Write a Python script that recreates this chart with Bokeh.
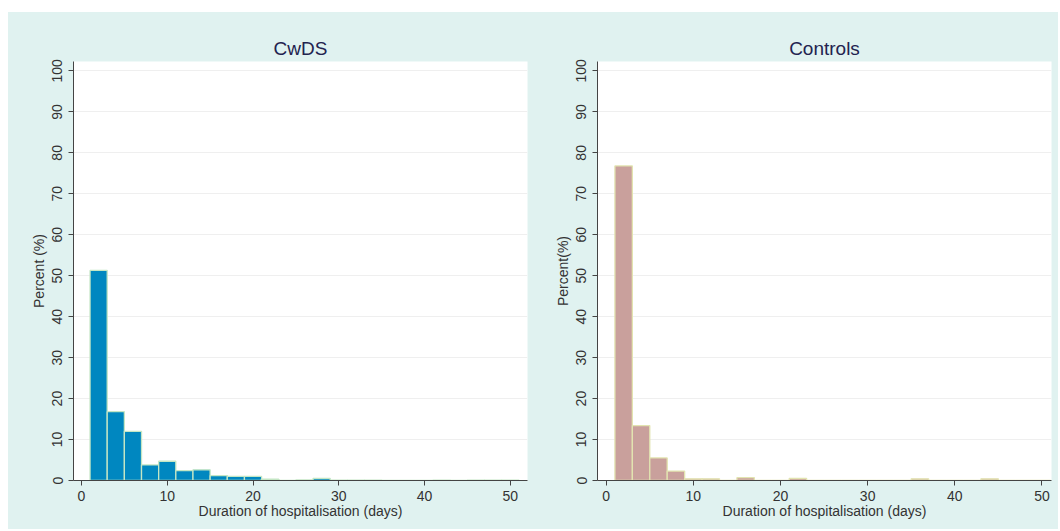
from bokeh.plotting import figure
from bokeh.layouts import row
from bokeh.models import FixedTicker
from bokeh.embed import file_html
from bokeh.resources import INLINE

bin_edges = [1, 3, 5, 7, 9, 11, 13, 15, 17, 19, 21, 23, 25, 27, 29, 31, 33, 35,
             37, 39, 41, 43, 45, 47, 49, 51]
cwds_pct = [51.3, 16.8, 12.0, 3.8, 4.7, 2.4, 2.6, 1.2, 1.0, 1.0, 0.3, 0.0, 0.15,
            0.5, 0.1, 0.1, 0.1, 0.0, 0.0, 0.0, 0.1, 0.0, 0.1, 0.1, 0.1]
controls_pct = [76.8, 13.4, 5.5, 2.3, 0.4, 0.4, 0.0, 0.7, 0.0, 0.0, 0.5, 0.0, 0.0,
                0.0, 0.0, 0.0, 0.0, 0.4, 0.0, 0.0, 0.0, 0.4, 0.0, 0.0, 0.0]
x_ticks = [0, 10, 20, 30, 40, 50]
y_ticks = [0, 10, 20, 30, 40, 50, 60, 70, 80, 90, 100]

BG = "#e0f2f0"
FONT = "Liberation Sans"


def make_panel(title, values, fill, line, ylabel, width, mb_left, mb_right, xr):
    p = figure(width=width, height=517, output_backend="svg", toolbar_location=None,
               x_range=xr, y_range=(0, 102.3), title=title,
               min_border_left=mb_left, min_border_right=mb_right,
               min_border_top=49, min_border_bottom=49)
    p.border_fill_color = BG
    p.background_fill_color = "white"
    p.outline_line_color = None
    p.title.align = "center"
    p.title.text_font = FONT
    p.title.text_font_size = "19px"
    p.title.text_font_style = "normal"
    p.title.text_color = "#23234f"
    p.title.standoff = 6
    p.quad(left=bin_edges[:-1], right=bin_edges[1:], bottom=0, top=values,
           fill_color=fill, line_color=line, line_width=1.3)
    for ax in (p.xaxis[0], p.yaxis[0]):
        ax.axis_line_color = "#444444"
        ax.major_tick_line_color = "#444444"
        ax.major_tick_out = 5
        ax.major_tick_in = 0
        ax.minor_tick_line_color = None
        ax.major_label_text_font = FONT
        ax.major_label_text_font_size = "14px"
        ax.major_label_text_color = "#333333"
        ax.axis_label_text_font = FONT
        ax.axis_label_text_font_size = "14px"
        ax.axis_label_text_font_style = "normal"
        ax.axis_label_text_color = "#333333"
    p.xaxis.ticker = FixedTicker(ticks=x_ticks)
    p.yaxis.ticker = FixedTicker(ticks=y_ticks)
    p.xaxis.axis_label = "Duration of hospitalisation (days)"
    p.xaxis.axis_label_standoff = -1
    p.xaxis.major_label_standoff = 5
    p.yaxis.axis_label = ylabel
    p.yaxis.major_label_orientation = "vertical"
    p.yaxis.major_label_standoff = 6
    p.yaxis.axis_label_standoff = 3
    p.xgrid.grid_line_color = None
    p.ygrid.grid_line_color = "#efefef"
    return p


p1 = make_panel("CwDS", cwds_pct, "#0087c0", "#c4e6c4", "Percent (%)",
                530, 65, 11, (-0.93, 52.0))
p2 = make_panel("Controls", controls_pct, "#c9a09c", "#e2e4b0", "Percent(%)",
                520, 59, 7, (-1.0, 51.1))

layout = row(p1, p2, styles={"margin-top": "12px", "margin-left": "8px",
                             "background-color": BG})
open("out.html", "w").write(file_html(layout, INLINE))
